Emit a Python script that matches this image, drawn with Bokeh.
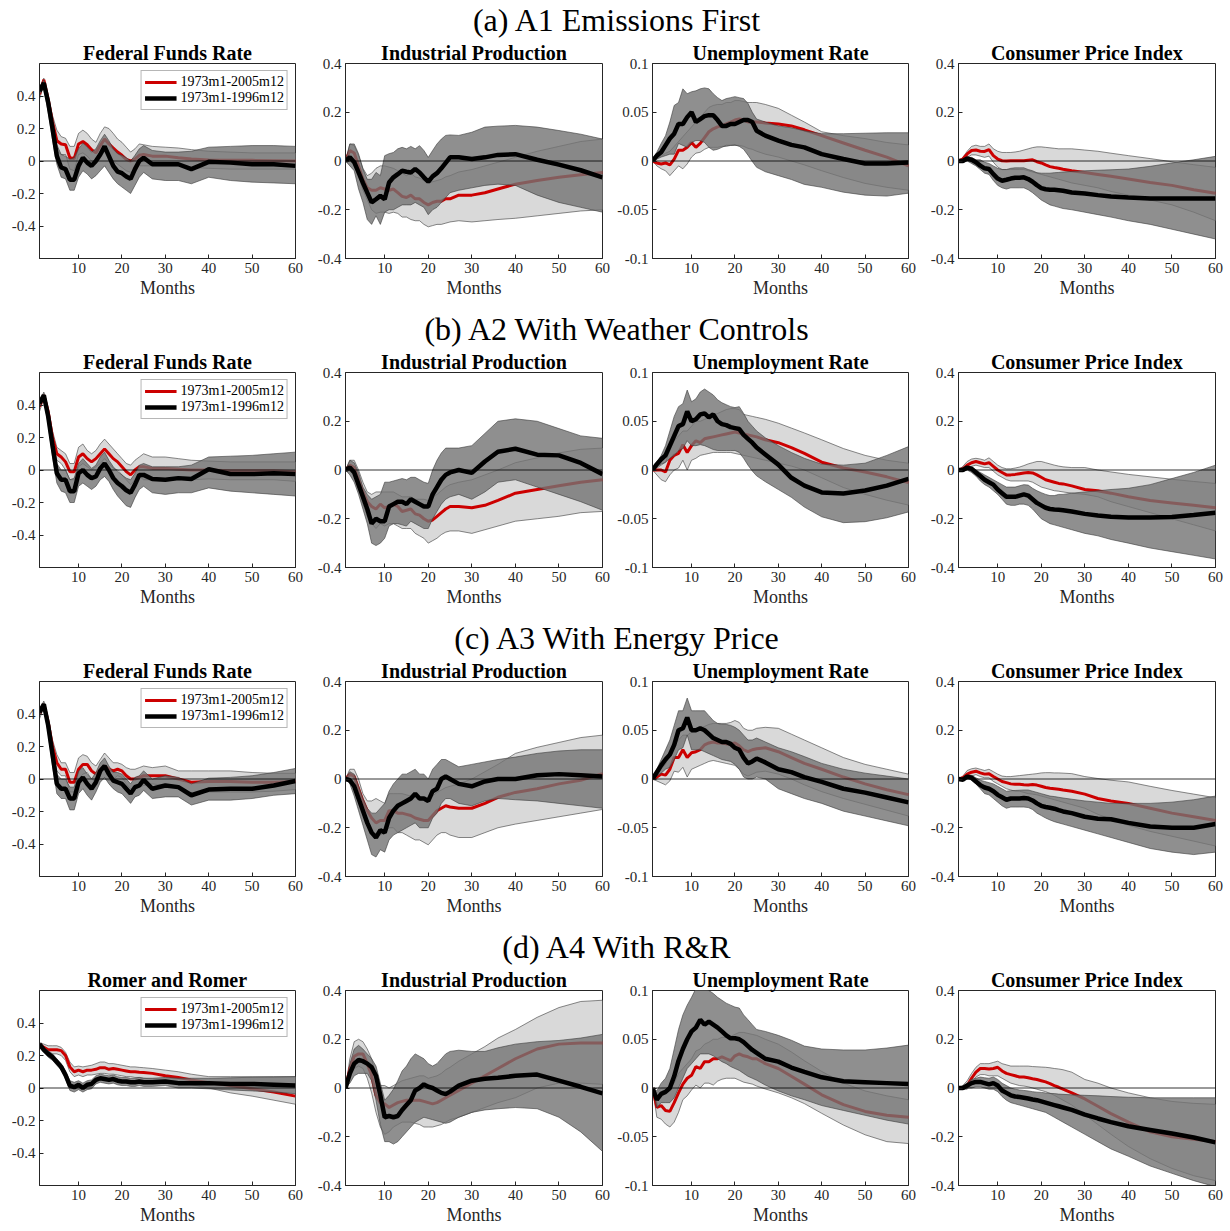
from bokeh.plotting import figure
from bokeh.layouts import column, row
from bokeh.models import (Div, FixedTicker, Range1d, Span, Legend, LegendItem,
                          CustomJSTickFormatter)
from bokeh.embed import file_html
from bokeh.resources import INLINE

# ---------------------------------------------------------------- data
MONTHS = [1, 2, 3, 4, 5, 6, 7, 8, 9, 10, 11, 12, 13, 14, 15, 16, 17, 18, 19, 20,
          21, 22, 23, 24, 25, 27, 30, 33, 36, 40, 45, 50, 55, 60]
X_TICKS = [10, 20, 30, 40, 50, 60]
SECTION_TITLES = ["(a) A1 Emissions First", "(b) A2 With Weather Controls",
                  "(c) A3 With Energy Price", "(d) A4 With R&amp;R"]
LEGEND_LABELS = ["1973m1-2005m12", "1973m1-1996m12"]

# ---- (a) A1 Emissions First
A1_FFR_RED = [0.41,0.50,0.38,0.24,0.125,0.105,0.10,0.02,0.015,0.105,0.12,0.10,0.07,0.05,0.095,0.135,0.105,0.08,0.055,0.035,0.01,0.0,0.012,0.035,0.04,0.03,0.03,0.02,0.012,0.006,0.004,0.004,0.002,0.0]
A1_FFR_RED_LO = [0.38,0.47,0.34,0.19,0.06,0.04,0.04,-0.05,-0.06,0.04,0.05,0.03,0.0,-0.02,0.02,0.06,0.03,0.0,-0.02,-0.04,-0.06,-0.07,-0.05,-0.03,-0.03,-0.03,-0.03,-0.03,-0.04,-0.045,-0.05,-0.05,-0.05,-0.05]
A1_FFR_RED_HI = [0.45,0.51,0.40,0.28,0.19,0.15,0.14,0.09,0.09,0.17,0.19,0.17,0.135,0.115,0.17,0.21,0.20,0.17,0.135,0.115,0.085,0.055,0.075,0.105,0.10,0.09,0.085,0.08,0.07,0.06,0.055,0.05,0.05,0.05]
A1_FFR_BLK = [0.43,0.48,0.36,0.20,0.03,-0.04,-0.05,-0.115,-0.115,-0.03,0.02,-0.01,-0.03,0.0,0.04,0.09,0.03,-0.03,-0.065,-0.075,-0.095,-0.11,-0.05,0.0,0.02,-0.02,-0.02,-0.02,-0.05,-0.005,-0.01,-0.02,-0.02,-0.03]
A1_FFR_BLK_LO = [0.41,0.45,0.30,0.13,-0.02,-0.10,-0.11,-0.18,-0.18,-0.10,-0.06,-0.08,-0.11,-0.09,-0.06,-0.03,-0.07,-0.11,-0.14,-0.16,-0.18,-0.20,-0.15,-0.10,-0.07,-0.11,-0.12,-0.12,-0.14,-0.10,-0.12,-0.13,-0.135,-0.14]
A1_FFR_BLK_HI = [0.45,0.50,0.38,0.23,0.10,0.04,0.03,0.01,0.02,0.075,0.11,0.085,0.055,0.075,0.125,0.165,0.125,0.075,0.045,0.035,0.02,0.0,0.035,0.075,0.095,0.065,0.055,0.055,0.06,0.085,0.09,0.095,0.095,0.09]

A1_IP_RED = [0,0.043,0.033,-0.02,-0.075,-0.11,-0.12,-0.12,-0.11,-0.115,-0.12,-0.115,-0.13,-0.145,-0.15,-0.14,-0.155,-0.155,-0.17,-0.18,-0.17,-0.165,-0.165,-0.155,-0.155,-0.14,-0.14,-0.13,-0.115,-0.095,-0.08,-0.067,-0.056,-0.047]
A1_IP_RED_LO = [0,0.0,0.0,-0.06,-0.12,-0.16,-0.20,-0.215,-0.21,-0.21,-0.215,-0.21,-0.215,-0.23,-0.23,-0.24,-0.245,-0.245,-0.26,-0.27,-0.265,-0.26,-0.26,-0.255,-0.25,-0.245,-0.25,-0.245,-0.24,-0.235,-0.225,-0.215,-0.205,-0.20]
A1_IP_RED_HI = [0,0.07,0.063,0.022,-0.03,-0.06,-0.05,-0.03,-0.02,-0.02,-0.025,-0.03,-0.04,-0.05,-0.06,-0.05,-0.065,-0.07,-0.08,-0.09,-0.085,-0.08,-0.075,-0.065,-0.06,-0.045,-0.035,-0.02,-0.005,0.015,0.04,0.06,0.08,0.09]
A1_IP_BLK = [0,0.015,-0.005,-0.047,-0.09,-0.13,-0.17,-0.157,-0.143,-0.157,-0.088,-0.067,-0.054,-0.04,-0.044,-0.047,-0.033,-0.047,-0.067,-0.085,-0.063,-0.05,-0.03,-0.008,0.015,0.015,0.008,0.015,0.025,0.028,0.005,-0.015,-0.038,-0.067]
A1_IP_BLK_LO = [0,-0.02,-0.04,-0.115,-0.17,-0.24,-0.26,-0.225,-0.26,-0.21,-0.20,-0.20,-0.19,-0.18,-0.18,-0.18,-0.17,-0.18,-0.19,-0.22,-0.2,-0.19,-0.17,-0.15,-0.13,-0.12,-0.11,-0.1,-0.095,-0.1,-0.14,-0.17,-0.19,-0.21]
A1_IP_BLK_HI = [0,0.07,0.07,0.03,-0.033,-0.075,-0.075,-0.047,-0.06,0.022,0.03,0.035,0.05,0.056,0.05,0.06,0.05,0.063,0.043,0.015,0.043,0.07,0.09,0.105,0.107,0.105,0.118,0.139,0.143,0.146,0.139,0.125,0.11,0.09]

A1_UR_RED = [0,-0.002,-0.003,-0.002,-0.004,0.002,0.011,0.011,0.014,0.019,0.014,0.018,0.024,0.03,0.033,0.035,0.036,0.038,0.04,0.042,0.043,0.042,0.04,0.04,0.04,0.039,0.038,0.036,0.032,0.026,0.0185,0.011,0.004,-0.005]
A1_UR_RED_LO = [0,-0.005,-0.008,-0.01,-0.015,-0.01,-0.005,-0.008,-0.003,0.004,0.008,0.009,0.012,0.014,0.014,0.014,0.015,0.015,0.016,0.016,0.016,0.015,0.013,0.012,0.01,0.007,0.004,0.0,-0.004,-0.01,-0.017,-0.023,-0.027,-0.03]
A1_UR_RED_HI = [0,0.003,0.005,0.008,0.01,0.015,0.02,0.025,0.03,0.035,0.04,0.045,0.05,0.055,0.057,0.058,0.058,0.06,0.06,0.062,0.062,0.061,0.06,0.06,0.06,0.058,0.054,0.047,0.04,0.03,0.026,0.023,0.019,0.0165]
A1_UR_BLK = [0,0.0055,0.009,0.016,0.023,0.028,0.038,0.038,0.045,0.05,0.04,0.043,0.046,0.047,0.047,0.042,0.036,0.036,0.038,0.038,0.04,0.042,0.042,0.04,0.031,0.026,0.021,0.0165,0.014,0.007,0.002,-0.0025,-0.0025,-0.0015]
A1_UR_BLK_LO = [0,0.002,0.004,0.0055,0.007,0.007,0.018,0.016,0.014,0.019,0.021,0.021,0.019,0.014,0.011,0.012,0.014,0.016,0.016,0.0165,0.015,0.012,0.006,-0.0005,-0.0065,-0.011,-0.015,-0.019,-0.024,-0.027,-0.032,-0.035,-0.036,-0.033]
A1_UR_BLK_HI = [0,0.009,0.018,0.026,0.04,0.057,0.06,0.074,0.069,0.071,0.072,0.074,0.075,0.074,0.069,0.065,0.062,0.064,0.065,0.066,0.065,0.064,0.059,0.05,0.043,0.04,0.036,0.034,0.031,0.028,0.028,0.0285,0.029,0.029]

A1_CPI_RED = [0,0.008,0.029,0.043,0.045,0.04,0.039,0.047,0.022,0.008,0.001,0,0.001,0.001,0.001,0.001,0.003,0.005,-0.003,-0.008,-0.016,-0.023,-0.027,-0.03,-0.034,-0.04,-0.047,-0.055,-0.063,-0.074,-0.088,-0.1,-0.118,-0.132]
A1_CPI_RED_LO = [0,0.0,0.015,0.025,0.025,0.02,0.015,0.02,-0.005,-0.025,-0.035,-0.035,-0.035,-0.035,-0.035,-0.035,-0.04,-0.045,-0.05,-0.055,-0.06,-0.065,-0.07,-0.075,-0.08,-0.09,-0.1,-0.11,-0.125,-0.14,-0.16,-0.18,-0.21,-0.245]
A1_CPI_RED_HI = [0,0.015,0.04,0.06,0.065,0.06,0.06,0.07,0.05,0.04,0.035,0.035,0.035,0.037,0.04,0.045,0.05,0.055,0.058,0.058,0.056,0.054,0.052,0.05,0.05,0.05,0.045,0.04,0.032,0.022,0.01,-0.003,-0.015,-0.026]
A1_CPI_BLK = [0,0,0.011,0.005,-0.005,-0.019,-0.03,-0.033,-0.054,-0.072,-0.081,-0.077,-0.072,-0.069,-0.069,-0.067,-0.074,-0.085,-0.099,-0.111,-0.116,-0.118,-0.118,-0.12,-0.122,-0.129,-0.133,-0.14,-0.146,-0.15,-0.154,-0.154,-0.154,-0.154]
A1_CPI_BLK_LO = [0,-0.003,0.0,-0.01,-0.02,-0.035,-0.05,-0.055,-0.08,-0.1,-0.11,-0.115,-0.11,-0.11,-0.11,-0.11,-0.118,-0.13,-0.145,-0.16,-0.17,-0.18,-0.185,-0.19,-0.195,-0.2,-0.21,-0.22,-0.23,-0.245,-0.26,-0.28,-0.3,-0.32]
A1_CPI_BLK_HI = [0,0.003,0.015,0.015,0.005,0.005,-0.005,-0.01,-0.02,-0.03,-0.035,-0.035,-0.03,-0.028,-0.028,-0.028,-0.035,-0.04,-0.048,-0.05,-0.05,-0.05,-0.048,-0.047,-0.045,-0.043,-0.04,-0.038,-0.036,-0.033,-0.022,-0.008,0.005,0.019]

# ---- (b) A2 With Weather Controls
A2_FFR_RED = [0.39,0.46,0.36,0.2,0.1,0.08,0.05,-0.01,-0.01,0.08,0.1,0.07,0.05,0.07,0.1,0.13,0.1,0.07,0.05,0.02,-0.01,-0.03,0.0,0.02,0.02,0.01,0.01,0.005,0.0,0.0,-0.005,-0.005,-0.005,-0.01]
A2_FFR_RED_LO = [0.36,0.44,0.34,0.16,0.06,0.04,0.0,-0.06,-0.06,0.02,0.04,0.02,0.0,0.02,0.04,0.07,0.04,0.01,0.0,-0.03,-0.06,-0.09,-0.06,-0.04,-0.06,-0.06,-0.06,-0.06,-0.06,-0.055,-0.06,-0.06,-0.06,-0.07]
A2_FFR_RED_HI = [0.42,0.48,0.38,0.24,0.14,0.12,0.1,0.04,0.04,0.14,0.16,0.12,0.1,0.12,0.16,0.19,0.16,0.13,0.1,0.07,0.04,0.03,0.06,0.08,0.1,0.08,0.08,0.07,0.06,0.055,0.05,0.05,0.05,0.05]
A2_FFR_BLK = [0.41,0.46,0.33,0.15,-0.02,-0.06,-0.06,-0.13,-0.13,-0.02,0.0,-0.03,-0.05,-0.04,0.01,0.04,0.0,-0.05,-0.08,-0.1,-0.125,-0.14,-0.09,-0.03,-0.03,-0.055,-0.06,-0.05,-0.055,0.005,-0.025,-0.025,-0.02,-0.025]
A2_FFR_BLK_LO = [0.39,0.44,0.28,0.08,-0.08,-0.13,-0.14,-0.2,-0.2,-0.1,-0.08,-0.1,-0.12,-0.1,-0.06,-0.04,-0.07,-0.12,-0.16,-0.19,-0.22,-0.23,-0.17,-0.12,-0.1,-0.14,-0.15,-0.14,-0.14,-0.11,-0.13,-0.14,-0.15,-0.16]
A2_FFR_BLK_HI = [0.43,0.47,0.36,0.2,0.04,0.0,0.0,-0.06,-0.05,0.04,0.07,0.04,0.01,0.03,0.08,0.11,0.06,0.02,-0.01,-0.03,-0.05,-0.06,-0.02,0.03,0.04,0.02,0.02,0.02,0.03,0.08,0.085,0.09,0.1,0.11]

A2_IP_RED = [0,0.02,0.01,-0.04,-0.09,-0.13,-0.15,-0.16,-0.14,-0.155,-0.15,-0.14,-0.15,-0.17,-0.165,-0.16,-0.18,-0.185,-0.2,-0.21,-0.205,-0.19,-0.175,-0.16,-0.15,-0.15,-0.155,-0.145,-0.125,-0.095,-0.08,-0.065,-0.05,-0.04]
A2_IP_RED_LO = [0,-0.005,-0.02,-0.08,-0.14,-0.19,-0.22,-0.24,-0.22,-0.23,-0.22,-0.22,-0.23,-0.24,-0.24,-0.24,-0.26,-0.27,-0.28,-0.3,-0.29,-0.28,-0.265,-0.255,-0.25,-0.25,-0.26,-0.245,-0.23,-0.21,-0.2,-0.19,-0.175,-0.17]
A2_IP_RED_HI = [0,0.04,0.04,0.0,-0.05,-0.09,-0.1,-0.09,-0.09,-0.09,-0.09,-0.09,-0.1,-0.11,-0.11,-0.11,-0.12,-0.12,-0.12,-0.125,-0.11,-0.1,-0.085,-0.07,-0.06,-0.05,-0.04,-0.02,0.0,0.03,0.05,0.07,0.085,0.09]
A2_IP_BLK = [0,0.01,-0.01,-0.06,-0.11,-0.16,-0.22,-0.2,-0.21,-0.21,-0.15,-0.14,-0.13,-0.13,-0.14,-0.12,-0.13,-0.14,-0.15,-0.15,-0.1,-0.07,-0.04,-0.02,-0.01,0.0,-0.012,0.035,0.075,0.087,0.063,0.06,0.029,-0.017]
A2_IP_BLK_LO = [0,-0.02,-0.05,-0.1,-0.16,-0.22,-0.3,-0.31,-0.3,-0.28,-0.23,-0.22,-0.22,-0.225,-0.23,-0.21,-0.22,-0.23,-0.24,-0.24,-0.2,-0.17,-0.14,-0.12,-0.11,-0.1,-0.12,-0.09,-0.05,-0.04,-0.07,-0.1,-0.13,-0.165]
A2_IP_BLK_HI = [0,0.04,0.03,-0.01,-0.07,-0.1,-0.12,-0.11,-0.1,-0.05,-0.05,-0.045,-0.04,-0.035,-0.04,-0.03,-0.03,-0.04,-0.05,-0.055,0.0,0.04,0.07,0.09,0.09,0.09,0.1,0.15,0.2,0.21,0.2,0.17,0.14,0.13]

A2_UR_RED = [0,0.0,0.0,-0.002,0.01,0.015,0.017,0.026,0.018,0.025,0.03,0.028,0.032,0.033,0.034,0.035,0.036,0.037,0.038,0.039,0.038,0.037,0.036,0.035,0.034,0.031,0.028,0.023,0.017,0.008,0.002,-0.002,-0.007,-0.013]
A2_UR_RED_LO = [0,-0.005,-0.01,-0.012,-0.005,0.0,0.002,0.01,0.0,0.01,0.012,0.015,0.016,0.017,0.018,0.018,0.018,0.018,0.018,0.017,0.016,0.015,0.014,0.013,0.012,0.01,0.007,0.004,0.0,-0.008,-0.018,-0.025,-0.031,-0.036]
A2_UR_RED_HI = [0,0.002,0.005,0.008,0.02,0.03,0.035,0.04,0.04,0.045,0.05,0.05,0.052,0.054,0.056,0.058,0.06,0.062,0.063,0.063,0.062,0.057,0.056,0.055,0.054,0.052,0.048,0.043,0.038,0.031,0.022,0.015,0.01,0.007]
A2_UR_BLK = [0,0.006,0.011,0.015,0.025,0.035,0.045,0.047,0.06,0.05,0.052,0.057,0.058,0.054,0.057,0.05,0.047,0.046,0.044,0.043,0.042,0.036,0.032,0.028,0.023,0.016,0.0055,-0.008,-0.016,-0.023,-0.024,-0.021,-0.016,-0.009]
A2_UR_BLK_LO = [0,0.003,0.006,0.008,0.012,0.015,0.02,0.022,0.03,0.025,0.025,0.026,0.025,0.023,0.021,0.02,0.02,0.02,0.02,0.02,0.018,0.012,0.005,-0.001,-0.006,-0.012,-0.02,-0.028,-0.038,-0.048,-0.054,-0.053,-0.049,-0.043]
A2_UR_BLK_HI = [0,0.008,0.015,0.025,0.04,0.055,0.065,0.068,0.082,0.07,0.073,0.08,0.083,0.08,0.077,0.072,0.069,0.067,0.065,0.064,0.065,0.058,0.05,0.045,0.04,0.033,0.025,0.018,0.012,0.006,0.005,0.007,0.015,0.024]

A2_CPI_RED = [0,0.005,0.02,0.03,0.035,0.03,0.025,0.03,0.015,0.0,-0.01,-0.02,-0.02,-0.018,-0.015,-0.012,-0.01,-0.012,-0.02,-0.03,-0.04,-0.045,-0.05,-0.055,-0.057,-0.065,-0.08,-0.085,-0.095,-0.11,-0.125,-0.135,-0.145,-0.155]
A2_CPI_RED_LO = [0,-0.003,0.005,0.015,0.02,0.015,0.01,0.01,-0.005,-0.02,-0.03,-0.04,-0.045,-0.045,-0.045,-0.045,-0.045,-0.05,-0.06,-0.07,-0.075,-0.08,-0.085,-0.087,-0.09,-0.095,-0.1,-0.11,-0.13,-0.15,-0.175,-0.2,-0.225,-0.25]
A2_CPI_RED_HI = [0,0.015,0.035,0.045,0.048,0.045,0.04,0.05,0.035,0.02,0.01,0.005,0.005,0.008,0.012,0.018,0.025,0.03,0.035,0.035,0.03,0.025,0.02,0.016,0.013,0.01,0.01,0.0,-0.008,-0.018,-0.028,-0.038,-0.047,-0.055]
A2_CPI_BLK = [0,0.0,0.01,0.005,-0.01,-0.025,-0.04,-0.05,-0.06,-0.08,-0.095,-0.11,-0.11,-0.11,-0.105,-0.1,-0.105,-0.12,-0.135,-0.145,-0.155,-0.16,-0.162,-0.163,-0.165,-0.17,-0.18,-0.187,-0.192,-0.195,-0.195,-0.193,-0.185,-0.175]
A2_CPI_BLK_LO = [0,-0.005,0.0,-0.01,-0.025,-0.045,-0.06,-0.07,-0.085,-0.1,-0.12,-0.14,-0.145,-0.145,-0.14,-0.14,-0.145,-0.16,-0.18,-0.2,-0.21,-0.22,-0.225,-0.23,-0.235,-0.245,-0.26,-0.27,-0.285,-0.3,-0.32,-0.335,-0.35,-0.365]
A2_CPI_BLK_HI = [0,0.0,0.012,0.01,0.0,-0.01,-0.02,-0.03,-0.04,-0.05,-0.06,-0.07,-0.07,-0.07,-0.065,-0.06,-0.062,-0.075,-0.085,-0.093,-0.1,-0.105,-0.105,-0.1,-0.1,-0.095,-0.09,-0.085,-0.08,-0.075,-0.06,-0.035,-0.01,0.02]

# ---- (c) A3 With Energy Price
A3_FFR_RED = [0.4,0.46,0.35,0.2,0.1,0.06,0.06,-0.02,-0.02,0.06,0.09,0.09,0.05,0.03,0.06,0.08,0.06,0.05,0.06,0.05,0.02,0.0,0.0,0.01,0.02,0.02,0.02,0.0,-0.02,-0.015,-0.015,-0.02,-0.02,-0.015]
A3_FFR_RED_LO = [0.37,0.44,0.32,0.16,0.05,0.02,0.02,-0.08,-0.08,0.0,0.03,0.04,0.0,-0.02,0.0,0.0,-0.01,0.0,0.02,0.01,-0.03,-0.06,-0.06,-0.05,-0.04,-0.03,-0.04,-0.05,-0.09,-0.08,-0.08,-0.08,-0.075,-0.065]
A3_FFR_RED_HI = [0.43,0.48,0.38,0.24,0.15,0.1,0.1,0.04,0.04,0.13,0.15,0.14,0.1,0.08,0.12,0.16,0.13,0.1,0.1,0.09,0.07,0.06,0.06,0.07,0.08,0.07,0.08,0.05,0.05,0.05,0.05,0.04,0.035,0.035]
A3_FFR_BLK = [0.41,0.46,0.33,0.15,-0.03,-0.06,-0.06,-0.12,-0.12,-0.02,0.01,-0.03,-0.06,-0.02,0.05,0.08,0.03,-0.01,-0.02,-0.03,-0.06,-0.09,-0.05,-0.04,-0.005,-0.06,-0.04,-0.05,-0.1,-0.065,-0.06,-0.06,-0.04,-0.012]
A3_FFR_BLK_LO = [0.39,0.44,0.28,0.08,-0.09,-0.12,-0.12,-0.19,-0.19,-0.09,-0.06,-0.1,-0.13,-0.08,-0.02,0.01,-0.03,-0.06,-0.08,-0.09,-0.12,-0.15,-0.11,-0.1,-0.07,-0.12,-0.11,-0.11,-0.16,-0.13,-0.13,-0.12,-0.1,-0.09]
A3_FFR_BLK_HI = [0.43,0.47,0.36,0.2,0.03,0.0,0.0,-0.05,-0.05,0.05,0.07,0.03,0.0,0.04,0.1,0.13,0.08,0.04,0.04,0.03,0.0,-0.03,0.01,0.02,0.05,0.0,0.02,0.01,-0.03,0.005,0.01,0.02,0.04,0.065]

A3_IP_RED = [0,0.02,0.01,-0.04,-0.09,-0.13,-0.16,-0.18,-0.17,-0.17,-0.13,-0.13,-0.14,-0.14,-0.145,-0.15,-0.16,-0.165,-0.17,-0.17,-0.15,-0.13,-0.12,-0.11,-0.115,-0.12,-0.12,-0.1,-0.075,-0.055,-0.04,-0.02,-0.005,0.022]
A3_IP_RED_LO = [0,-0.005,-0.02,-0.08,-0.13,-0.17,-0.21,-0.24,-0.23,-0.22,-0.2,-0.2,-0.22,-0.22,-0.23,-0.24,-0.25,-0.25,-0.26,-0.27,-0.25,-0.23,-0.22,-0.22,-0.23,-0.24,-0.24,-0.22,-0.2,-0.185,-0.17,-0.155,-0.14,-0.125]
A3_IP_RED_HI = [0,0.04,0.04,0.0,-0.06,-0.09,-0.09,-0.08,-0.09,-0.1,-0.06,-0.06,-0.06,-0.06,-0.065,-0.07,-0.075,-0.08,-0.085,-0.085,-0.07,-0.055,-0.045,-0.035,-0.03,-0.02,0.0,0.03,0.06,0.105,0.13,0.15,0.17,0.18]
A3_IP_BLK = [0,-0.005,-0.03,-0.08,-0.13,-0.18,-0.22,-0.24,-0.21,-0.22,-0.16,-0.13,-0.11,-0.1,-0.09,-0.08,-0.06,-0.08,-0.08,-0.09,-0.05,-0.04,0.0,0.01,0.0,-0.02,-0.03,-0.01,0.0,0.0,0.015,0.02,0.015,0.01]
A3_IP_BLK_LO = [0,-0.02,-0.07,-0.13,-0.19,-0.25,-0.31,-0.32,-0.29,-0.3,-0.25,-0.23,-0.22,-0.21,-0.2,-0.19,-0.18,-0.2,-0.2,-0.2,-0.16,-0.14,-0.1,-0.08,-0.08,-0.1,-0.11,-0.09,-0.08,-0.085,-0.09,-0.1,-0.11,-0.12]
A3_IP_BLK_HI = [0,0.03,0.02,-0.03,-0.08,-0.12,-0.14,-0.14,-0.12,-0.1,-0.05,-0.02,0.0,0.02,0.02,0.03,0.04,0.02,0.02,0.0,0.04,0.06,0.08,0.08,0.07,0.05,0.06,0.07,0.08,0.09,0.105,0.115,0.12,0.12]

A3_UR_RED = [0,0.002,0.005,0.004,0.01,0.022,0.022,0.03,0.022,0.027,0.028,0.03,0.035,0.037,0.038,0.037,0.037,0.036,0.036,0.037,0.034,0.03,0.028,0.03,0.031,0.032,0.028,0.022,0.016,0.01,0.002,-0.005,-0.011,-0.016]
A3_UR_RED_LO = [0,-0.002,-0.004,-0.006,-0.002,0.008,0.007,0.012,0.002,0.01,0.012,0.014,0.016,0.018,0.019,0.018,0.017,0.016,0.015,0.014,0.01,0.005,0.003,0.005,0.007,0.008,0.005,0.0,-0.006,-0.013,-0.02,-0.026,-0.032,-0.038]
A3_UR_RED_HI = [0,0.005,0.01,0.015,0.025,0.035,0.04,0.045,0.045,0.048,0.05,0.052,0.054,0.056,0.057,0.057,0.057,0.057,0.058,0.06,0.058,0.052,0.05,0.05,0.052,0.053,0.052,0.046,0.04,0.032,0.022,0.015,0.01,0.005]
A3_UR_BLK = [0,0.007,0.014,0.02,0.025,0.035,0.05,0.052,0.063,0.05,0.05,0.052,0.05,0.046,0.042,0.04,0.038,0.038,0.036,0.032,0.03,0.022,0.016,0.018,0.021,0.017,0.01,0.007,0.002,-0.003,-0.01,-0.014,-0.019,-0.024]
A3_UR_BLK_LO = [0,0.003,0.006,0.01,0.012,0.02,0.03,0.032,0.045,0.03,0.03,0.03,0.028,0.026,0.024,0.022,0.02,0.019,0.018,0.015,0.01,0.002,0.0,0.0,0.002,0.0,-0.01,-0.015,-0.02,-0.025,-0.033,-0.038,-0.043,-0.048]
A3_UR_BLK_HI = [0,0.01,0.02,0.03,0.04,0.055,0.07,0.07,0.083,0.07,0.07,0.07,0.07,0.065,0.06,0.057,0.056,0.056,0.055,0.053,0.05,0.045,0.04,0.04,0.042,0.038,0.032,0.028,0.023,0.016,0.01,0.006,0.003,0.0]

A3_CPI_RED = [0,0.005,0.02,0.028,0.032,0.025,0.02,0.022,0.01,0.0,-0.01,-0.015,-0.02,-0.022,-0.022,-0.024,-0.025,-0.023,-0.025,-0.03,-0.035,-0.038,-0.04,-0.042,-0.045,-0.05,-0.062,-0.08,-0.09,-0.1,-0.12,-0.14,-0.155,-0.17]
A3_CPI_RED_LO = [0,-0.003,0.005,0.012,0.018,0.01,0.005,0.005,-0.01,-0.02,-0.03,-0.04,-0.045,-0.05,-0.05,-0.055,-0.06,-0.062,-0.065,-0.07,-0.075,-0.08,-0.085,-0.09,-0.095,-0.105,-0.12,-0.145,-0.165,-0.19,-0.215,-0.235,-0.255,-0.275]
A3_CPI_RED_HI = [0,0.012,0.035,0.042,0.045,0.04,0.035,0.04,0.03,0.02,0.012,0.01,0.01,0.012,0.014,0.016,0.018,0.02,0.022,0.025,0.026,0.026,0.025,0.025,0.024,0.022,0.01,0.002,-0.005,-0.012,-0.03,-0.047,-0.062,-0.077]
A3_CPI_BLK = [0,-0.003,0.01,0.005,-0.01,-0.025,-0.035,-0.04,-0.05,-0.065,-0.075,-0.085,-0.08,-0.08,-0.08,-0.078,-0.08,-0.088,-0.1,-0.11,-0.115,-0.118,-0.122,-0.128,-0.133,-0.14,-0.155,-0.163,-0.165,-0.18,-0.195,-0.2,-0.2,-0.185]
A3_CPI_BLK_LO = [0,-0.005,0.005,-0.005,-0.02,-0.04,-0.06,-0.065,-0.08,-0.095,-0.11,-0.12,-0.115,-0.115,-0.115,-0.115,-0.117,-0.125,-0.14,-0.15,-0.16,-0.168,-0.175,-0.18,-0.185,-0.195,-0.21,-0.225,-0.24,-0.26,-0.285,-0.3,-0.31,-0.3]
A3_CPI_BLK_HI = [0,0.002,0.015,0.015,0.005,-0.005,-0.01,-0.015,-0.02,-0.03,-0.04,-0.05,-0.048,-0.047,-0.046,-0.045,-0.045,-0.05,-0.055,-0.06,-0.065,-0.07,-0.072,-0.075,-0.078,-0.083,-0.09,-0.095,-0.1,-0.1,-0.1,-0.095,-0.085,-0.07]

# ---- (d) A4 With R&R
A4_RR_RED = [0.27,0.25,0.235,0.235,0.235,0.23,0.2,0.13,0.1,0.11,0.1,0.11,0.11,0.115,0.125,0.125,0.115,0.12,0.115,0.11,0.105,0.1,0.1,0.097,0.095,0.09,0.075,0.065,0.05,0.033,0.015,-0.004,-0.025,-0.05]
A4_RR_RED_LO = [0.26,0.23,0.21,0.21,0.21,0.2,0.17,0.1,0.07,0.08,0.07,0.08,0.08,0.085,0.09,0.09,0.085,0.085,0.08,0.075,0.07,0.07,0.065,0.065,0.06,0.055,0.05,0.04,0.02,0.0,-0.03,-0.05,-0.075,-0.1]
A4_RR_RED_HI = [0.28,0.27,0.26,0.26,0.26,0.25,0.22,0.16,0.13,0.135,0.13,0.135,0.14,0.15,0.16,0.16,0.15,0.15,0.145,0.14,0.135,0.13,0.13,0.127,0.125,0.12,0.11,0.1,0.085,0.07,0.07,0.07,0.07,0.07]
A4_RR_BLK = [0.27,0.235,0.21,0.19,0.16,0.13,0.08,0.015,0.005,0.02,0.0,0.02,0.025,0.05,0.06,0.055,0.05,0.055,0.045,0.04,0.04,0.035,0.035,0.04,0.035,0.035,0.04,0.03,0.03,0.03,0.025,0.025,0.02,0.015]
A4_RR_BLK_LO = [0.26,0.22,0.19,0.17,0.14,0.11,0.055,-0.015,-0.025,-0.01,-0.025,-0.01,-0.005,0.025,0.035,0.03,0.025,0.03,0.02,0.015,0.015,0.01,0.01,0.015,0.01,0.01,0.015,0.0,0.0,-0.005,-0.012,-0.018,-0.025,-0.035]
A4_RR_BLK_HI = [0.28,0.25,0.23,0.21,0.18,0.15,0.105,0.045,0.035,0.045,0.03,0.045,0.05,0.075,0.085,0.08,0.075,0.08,0.07,0.065,0.065,0.06,0.06,0.065,0.06,0.06,0.065,0.06,0.06,0.06,0.063,0.066,0.068,0.07]

A4_IP_RED = [0,0.08,0.13,0.14,0.14,0.1,0.05,-0.03,-0.06,-0.065,-0.08,-0.07,-0.06,-0.055,-0.05,-0.05,-0.05,-0.05,-0.055,-0.06,-0.065,-0.06,-0.05,-0.04,-0.03,-0.01,0.02,0.05,0.08,0.12,0.16,0.18,0.185,0.185]
A4_IP_RED_LO = [0,0.04,0.08,0.09,0.08,0.04,-0.02,-0.1,-0.16,-0.19,-0.18,-0.16,-0.15,-0.14,-0.14,-0.14,-0.145,-0.15,-0.16,-0.16,-0.16,-0.155,-0.15,-0.14,-0.13,-0.12,-0.1,-0.08,-0.06,-0.04,0.0,0.02,0.02,0.015]
A4_IP_RED_HI = [0,0.12,0.19,0.2,0.19,0.16,0.12,0.05,0.01,0.01,0.0,0.01,0.02,0.03,0.035,0.04,0.045,0.05,0.05,0.04,0.045,0.05,0.06,0.075,0.085,0.11,0.14,0.17,0.205,0.24,0.29,0.33,0.355,0.36]
A4_IP_BLK = [0,0.06,0.1,0.115,0.11,0.1,0.085,0.05,-0.03,-0.12,-0.115,-0.12,-0.115,-0.09,-0.07,-0.05,-0.01,0.0,0.015,0.005,0.0,-0.01,-0.02,-0.025,-0.015,0.01,0.03,0.038,0.042,0.05,0.055,0.03,0.005,-0.022]
A4_IP_BLK_LO = [0,0.02,0.05,0.06,0.06,0.06,0.03,-0.05,-0.15,-0.22,-0.22,-0.23,-0.22,-0.2,-0.18,-0.16,-0.14,-0.13,-0.12,-0.125,-0.13,-0.135,-0.14,-0.145,-0.14,-0.12,-0.1,-0.09,-0.085,-0.08,-0.085,-0.12,-0.18,-0.26]
A4_IP_BLK_HI = [0,0.1,0.16,0.175,0.16,0.14,0.12,0.09,0.02,-0.05,-0.03,-0.005,0.03,0.07,0.09,0.12,0.14,0.13,0.12,0.1,0.09,0.1,0.12,0.14,0.15,0.155,0.15,0.15,0.165,0.18,0.19,0.195,0.205,0.22]

A4_UR_RED = [0,-0.02,-0.018,-0.023,-0.024,-0.015,-0.005,0.004,0.01,0.013,0.022,0.02,0.027,0.027,0.03,0.03,0.032,0.03,0.028,0.033,0.035,0.033,0.032,0.03,0.03,0.025,0.02,0.012,0.004,-0.007,-0.017,-0.024,-0.028,-0.03]
A4_UR_RED_LO = [0,-0.03,-0.032,-0.037,-0.04,-0.035,-0.025,-0.012,-0.008,-0.002,0.003,0.0,0.005,0.005,0.003,0.007,0.009,0.01,0.01,0.01,0.008,0.006,0.005,0.004,0.002,-0.001,-0.005,-0.01,-0.016,-0.026,-0.038,-0.048,-0.055,-0.057]
A4_UR_RED_HI = [0,-0.005,0.0,0.0,0.0,0.005,0.015,0.02,0.025,0.03,0.038,0.04,0.045,0.047,0.05,0.05,0.052,0.052,0.053,0.055,0.057,0.057,0.056,0.055,0.054,0.05,0.045,0.037,0.028,0.017,0.005,-0.003,-0.008,-0.012]
A4_UR_BLK = [0,-0.012,-0.006,-0.004,0.0,0.012,0.028,0.04,0.05,0.058,0.062,0.07,0.065,0.068,0.065,0.062,0.058,0.054,0.051,0.051,0.05,0.047,0.043,0.039,0.036,0.03,0.027,0.021,0.0165,0.011,0.007,0.006,0.005,0.004]
A4_UR_BLK_LO = [0,-0.02,-0.015,-0.015,-0.015,-0.01,0.0,0.01,0.02,0.025,0.03,0.035,0.035,0.035,0.033,0.03,0.027,0.025,0.022,0.02,0.018,0.015,0.012,0.01,0.008,0.003,-0.003,-0.008,-0.012,-0.018,-0.023,-0.028,-0.033,-0.037]
A4_UR_BLK_HI = [0,-0.003,0.005,0.01,0.02,0.04,0.06,0.075,0.085,0.093,0.102,0.103,0.102,0.1,0.097,0.093,0.09,0.087,0.085,0.083,0.082,0.075,0.07,0.065,0.06,0.058,0.054,0.049,0.043,0.04,0.039,0.039,0.041,0.044]

A4_CPI_RED = [0,0.0,0.01,0.04,0.065,0.08,0.08,0.078,0.08,0.085,0.07,0.06,0.055,0.05,0.045,0.045,0.042,0.038,0.035,0.03,0.025,0.018,0.01,0.003,-0.005,-0.02,-0.045,-0.075,-0.105,-0.14,-0.18,-0.2,-0.21,-0.22]
A4_CPI_RED_LO = [0,-0.005,-0.005,0.02,0.045,0.055,0.055,0.05,0.05,0.05,0.04,0.03,0.02,0.015,0.01,0.008,0.005,0.0,-0.005,-0.01,-0.015,-0.022,-0.03,-0.04,-0.05,-0.07,-0.11,-0.15,-0.19,-0.24,-0.29,-0.33,-0.36,-0.38]
A4_CPI_RED_HI = [0,0.01,0.03,0.06,0.085,0.1,0.1,0.1,0.105,0.11,0.1,0.095,0.09,0.09,0.09,0.09,0.09,0.088,0.087,0.086,0.085,0.083,0.08,0.078,0.075,0.065,0.035,0.02,0.0,-0.02,-0.04,-0.055,-0.063,-0.067]
A4_CPI_BLK = [0,0.0,0.01,0.02,0.025,0.025,0.02,0.015,0.02,0.01,-0.01,-0.02,-0.03,-0.035,-0.037,-0.04,-0.043,-0.047,-0.05,-0.055,-0.06,-0.065,-0.07,-0.075,-0.08,-0.09,-0.109,-0.125,-0.14,-0.157,-0.172,-0.187,-0.203,-0.223]
A4_CPI_BLK_LO = [0,-0.005,0.0,0.0,0.005,0.005,0.0,-0.005,-0.005,-0.015,-0.035,-0.05,-0.06,-0.065,-0.07,-0.075,-0.08,-0.085,-0.09,-0.095,-0.1,-0.11,-0.12,-0.13,-0.14,-0.16,-0.19,-0.22,-0.25,-0.28,-0.32,-0.35,-0.38,-0.405]
A4_CPI_BLK_HI = [0,0.005,0.02,0.035,0.04,0.045,0.042,0.04,0.045,0.035,0.02,0.01,0.0,-0.005,-0.008,-0.01,-0.012,-0.015,-0.017,-0.018,-0.02,-0.022,-0.023,-0.025,-0.026,-0.028,-0.03,-0.032,-0.035,-0.038,-0.04,-0.04,-0.04,-0.04]

# axes settings per panel type: (title, y-range, y-ticks)
FFR_AX = ("Federal Funds Rate", (-0.6, 0.6), [-0.4, -0.2, 0, 0.2, 0.4])
RR_AX = ("Romer and Romer", (-0.6, 0.6), [-0.4, -0.2, 0, 0.2, 0.4])
IP_AX = ("Industrial Production", (-0.4, 0.4), [-0.4, -0.2, 0, 0.2, 0.4])
UR_AX = ("Unemployment Rate", (-0.1, 0.1), [-0.1, -0.05, 0, 0.05, 0.1])
CPI_AX = ("Consumer Price Index", (-0.4, 0.4), [-0.4, -0.2, 0, 0.2, 0.4])

ROWS = [
    [(FFR_AX, (A1_FFR_RED, A1_FFR_RED_LO, A1_FFR_RED_HI, A1_FFR_BLK, A1_FFR_BLK_LO, A1_FFR_BLK_HI)),
     (IP_AX, (A1_IP_RED, A1_IP_RED_LO, A1_IP_RED_HI, A1_IP_BLK, A1_IP_BLK_LO, A1_IP_BLK_HI)),
     (UR_AX, (A1_UR_RED, A1_UR_RED_LO, A1_UR_RED_HI, A1_UR_BLK, A1_UR_BLK_LO, A1_UR_BLK_HI)),
     (CPI_AX, (A1_CPI_RED, A1_CPI_RED_LO, A1_CPI_RED_HI, A1_CPI_BLK, A1_CPI_BLK_LO, A1_CPI_BLK_HI))],
    [(FFR_AX, (A2_FFR_RED, A2_FFR_RED_LO, A2_FFR_RED_HI, A2_FFR_BLK, A2_FFR_BLK_LO, A2_FFR_BLK_HI)),
     (IP_AX, (A2_IP_RED, A2_IP_RED_LO, A2_IP_RED_HI, A2_IP_BLK, A2_IP_BLK_LO, A2_IP_BLK_HI)),
     (UR_AX, (A2_UR_RED, A2_UR_RED_LO, A2_UR_RED_HI, A2_UR_BLK, A2_UR_BLK_LO, A2_UR_BLK_HI)),
     (CPI_AX, (A2_CPI_RED, A2_CPI_RED_LO, A2_CPI_RED_HI, A2_CPI_BLK, A2_CPI_BLK_LO, A2_CPI_BLK_HI))],
    [(FFR_AX, (A3_FFR_RED, A3_FFR_RED_LO, A3_FFR_RED_HI, A3_FFR_BLK, A3_FFR_BLK_LO, A3_FFR_BLK_HI)),
     (IP_AX, (A3_IP_RED, A3_IP_RED_LO, A3_IP_RED_HI, A3_IP_BLK, A3_IP_BLK_LO, A3_IP_BLK_HI)),
     (UR_AX, (A3_UR_RED, A3_UR_RED_LO, A3_UR_RED_HI, A3_UR_BLK, A3_UR_BLK_LO, A3_UR_BLK_HI)),
     (CPI_AX, (A3_CPI_RED, A3_CPI_RED_LO, A3_CPI_RED_HI, A3_CPI_BLK, A3_CPI_BLK_LO, A3_CPI_BLK_HI))],
    [(RR_AX, (A4_RR_RED, A4_RR_RED_LO, A4_RR_RED_HI, A4_RR_BLK, A4_RR_BLK_LO, A4_RR_BLK_HI)),
     (IP_AX, (A4_IP_RED, A4_IP_RED_LO, A4_IP_RED_HI, A4_IP_BLK, A4_IP_BLK_LO, A4_IP_BLK_HI)),
     (UR_AX, (A4_UR_RED, A4_UR_RED_LO, A4_UR_RED_HI, A4_UR_BLK, A4_UR_BLK_LO, A4_UR_BLK_HI)),
     (CPI_AX, (A4_CPI_RED, A4_CPI_RED_LO, A4_CPI_RED_HI, A4_CPI_BLK, A4_CPI_BLK_LO, A4_CPI_BLK_HI))],
]

# ---------------------------------------------------------------- style
FONT = "Liberation Serif"
AX_COLOR = "#262626"
RED = "#cc0000"
LIGHT_FILL = "#d9d9d9"
DARK_FILL = "#737373"
DARK_ALPHA = 0.8
EDGE = "#3a3a3a"

FRAME_H = 195
COL_LEFT = [30, 40, 40, 40]
COL_FRAME_W = [257, 257, 256, 257]
COL_RIGHT = [10, 10, 10, 10]
TOP_B = 25
DIV_H = 30
BOTTOM_B = [59, 59, 59, 42]

Y_FMT = CustomJSTickFormatter(code="""
    if (Math.abs(tick) < 1e-9) { return '0'; }
    return (Math.round(tick * 1000) / 1000).toString();
""")


def make_panel(ax, series, col, bottom, legend):
    title, yr, yticks = ax
    red, red_lo, red_hi, blk, blk_lo, blk_hi = series
    p = figure(width=COL_LEFT[col] + COL_FRAME_W[col] + COL_RIGHT[col],
               height=TOP_B + FRAME_H + bottom,
               x_range=Range1d(1, 60), y_range=Range1d(*yr),
               output_backend="svg", toolbar_location=None,
               min_border_left=COL_LEFT[col], min_border_right=COL_RIGHT[col],
               min_border_top=TOP_B, min_border_bottom=bottom)
    p.background_fill_color = "white"
    p.border_fill_color = "white"
    p.outline_line_color = AX_COLOR
    p.outline_line_width = 1
    p.xgrid.visible = False
    p.ygrid.visible = False

    p.title.text = title
    p.title.align = "center"
    p.title.text_font = FONT
    p.title.text_font_size = "20px"
    p.title.text_font_style = "bold"
    p.title.text_color = "black"
    p.title.standoff = 0

    # light band (first sample) with thin edges, then its point estimate
    p.varea(x=MONTHS, y1=red_lo, y2=red_hi, fill_color=LIGHT_FILL, fill_alpha=1.0)
    p.line(MONTHS, red_lo, line_color=EDGE, line_width=0.6)
    p.line(MONTHS, red_hi, line_color=EDGE, line_width=0.6)
    r_red = p.line(MONTHS, red, line_color=RED, line_width=3)

    # dark semi-opaque band (second sample), edges, point estimate
    p.varea(x=MONTHS, y1=blk_lo, y2=blk_hi, fill_color=DARK_FILL, fill_alpha=DARK_ALPHA)
    p.line(MONTHS, blk_lo, line_color=EDGE, line_width=0.6)
    p.line(MONTHS, blk_hi, line_color=EDGE, line_width=0.6)
    r_blk = p.line(MONTHS, blk, line_color="black", line_width=4.5)

    p.add_layout(Span(location=0, dimension="width", line_color="black", line_width=0.8))

    for axis in (p.xaxis[0], p.yaxis[0]):
        axis.axis_line_color = AX_COLOR
        axis.major_tick_line_color = AX_COLOR
        axis.major_tick_in = 4
        axis.major_tick_out = 0
        axis.minor_tick_line_color = None
        axis.major_label_text_font = FONT
        axis.major_label_text_font_size = "15px"
        axis.major_label_text_color = AX_COLOR
        axis.major_label_standoff = 4
    p.xaxis.ticker = FixedTicker(ticks=X_TICKS)
    p.yaxis.ticker = FixedTicker(ticks=yticks)
    p.yaxis.formatter = Y_FMT
    p.xaxis.axis_label = "Months"
    p.xaxis.axis_label_text_font = FONT
    p.xaxis.axis_label_text_font_size = "18px"
    p.xaxis.axis_label_text_font_style = "normal"
    p.xaxis.axis_label_text_color = AX_COLOR
    p.xaxis.axis_label_standoff = 2

    if legend:
        leg = Legend(items=[LegendItem(label=LEGEND_LABELS[0], renderers=[r_red]),
                            LegendItem(label=LEGEND_LABELS[1], renderers=[r_blk])],
                     location="top_right", margin=7, padding=3, spacing=0,
                     glyph_width=32, glyph_height=16, label_height=16,
                     label_standoff=4, label_text_font=FONT,
                     label_text_font_size="14px", label_text_color="black",
                     border_line_color="#6e6e6e", border_line_width=1,
                     background_fill_color="white", background_fill_alpha=1.0)
        p.add_layout(leg)
    return p


blocks = []
for r, panels in enumerate(ROWS):
    div = Div(text=SECTION_TITLES[r], width=1217, height=DIV_H, margin=(0, 0, 0, 0),
              styles={"font-family": FONT, "font-size": "32px", "line-height": "24px",
                      "text-align": "center", "color": "black", "white-space": "nowrap",
                      "overflow": "visible"})
    figs = [make_panel(ax, series, c, BOTTOM_B[r], legend=(c == 0))
            for c, (ax, series) in enumerate(panels)]
    blocks.append(div)
    blocks.append(row(*figs, spacing=0))

layout = column(*blocks, spacing=0, margin=(8, 0, 0, 8))
open("out.html", "w").write(file_html(layout, INLINE))
